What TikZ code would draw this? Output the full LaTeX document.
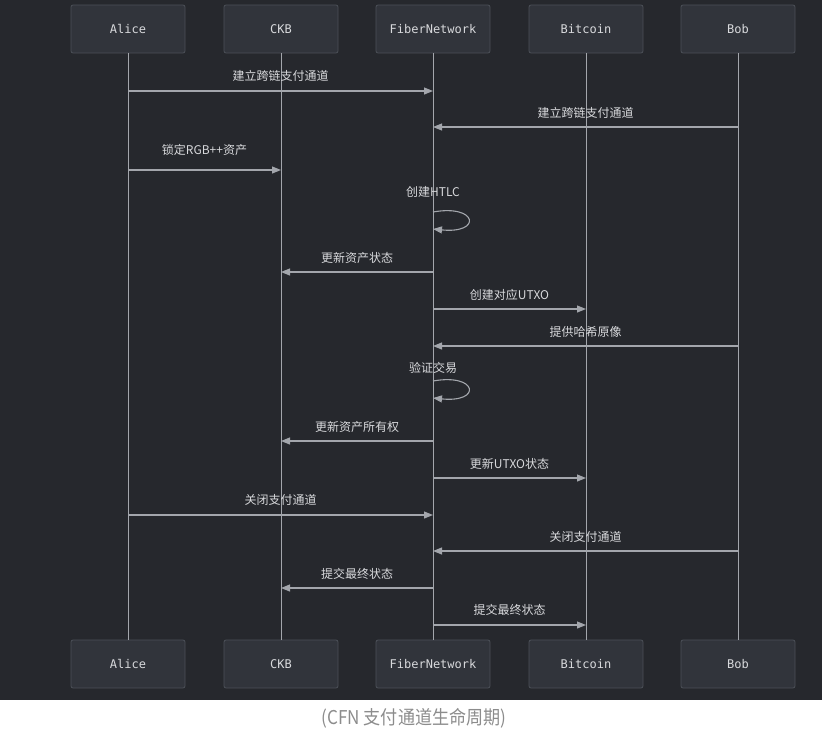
\documentclass[tikz,border=0pt]{standalone}
\usepackage{fontspec}
\setmainfont{Noto Sans CJK SC}
\newfontfamily\monof{DejaVu Sans Mono}
\usetikzlibrary{arrows.meta}
\definecolor{bgc}{HTML}{26282D}
\definecolor{boxfill}{HTML}{31343B}
\definecolor{boxline}{HTML}{4C5058}
\definecolor{linec}{HTML}{A3A6AC}
\definecolor{txtc}{HTML}{D8D9DC}
\definecolor{capc}{HTML}{8C8C8C}
\begin{document}
\begin{tikzpicture}[x=1pt,y=-1pt,
  actor/.style={draw=boxline,fill=boxfill,rounded corners=2pt,line width=0.8pt,minimum width=114pt,minimum height=48pt,inner sep=0pt,text=txtc,font=\monof\fontsize{12}{14}\selectfont},
  life/.style={draw=linec,line width=0.9pt},
  msg/.style={draw=linec,line width=1.1pt,-{Triangle[length=9pt,width=7pt]}},
  lbl/.style={text=txtc,font=\fontsize{12}{14}\selectfont,inner sep=0pt}]
\useasboundingbox (0,0) rectangle (822,734);
\fill[bgc] (0,0) rectangle (822,700);
% actors
\foreach \n/\t/\x in {A/Alice/128,C/CKB/281,F/FiberNetwork/433,B/Bitcoin/586,O/Bob/738}{
  \node[actor] (\n top) at (\x,29) {\t};
  \node[actor] (\n bot) at (\x,664) {\t};
  \draw[life] (\n top.south) -- (\n bot.north);
}
% message endpoints
\foreach \i/\y in {1/91,2/127,3/170,5/272,6/309,7/346,9/441,10/478,11/515,12/551,13/588,14/625}{
  \coordinate (A\i) at (128,\y);
  \coordinate (C\i) at (281,\y);
  \coordinate (F\i) at (433,\y);
  \coordinate (B\i) at (586,\y);
  \coordinate (O\i) at (738,\y);
}
\draw[msg] (A1) -- node[lbl,above=9pt] {建立跨链支付通道} (F1);
\draw[msg] (O2) -- node[lbl,above=8pt] {建立跨链支付通道} (F2);
\draw[msg] (A3) -- node[lbl,above=14pt] {锁定RGB++资产} (C3);
% self loop 1
\coordinate (L1s) at (433,212);
\coordinate (L1e) at (433,229);
\node[lbl] (L1t) at (433,192) {创建HTLC};
\draw[msg] (L1s) .. controls (478,204) and (482,234) .. (L1e);
\draw[msg] (F5) -- node[lbl,above=8pt] {更新资产状态} (C5);
\draw[msg] (F6) -- node[lbl,above=8pt] {创建对应UTXO} (B6);
\draw[msg] (O7) -- node[lbl,above=8pt] {提供哈希原像} (F7);
% self loop 2
\coordinate (L2s) at (433,381);
\coordinate (L2e) at (433,398);
\node[lbl] (L2t) at (433,368) {验证交易};
\draw[msg] (L2s) .. controls (478,373) and (482,403) .. (L2e);
\draw[msg] (F9) -- node[lbl,above=8pt] {更新资产所有权} (C9);
\draw[msg] (F10) -- node[lbl,above=8pt] {更新UTXO状态} (B10);
\draw[msg] (A11) -- node[lbl,above=9pt] {关闭支付通道} (F11);
\draw[msg] (O12) -- node[lbl,above=8pt] {关闭支付通道} (F12);
\draw[msg] (F13) -- node[lbl,above=8pt] {提交最终状态} (C13);
\draw[msg] (F14) -- node[lbl,above=9pt] {提交最终状态} (B14);
% caption
\node[text=capc,font=\fontsize{19}{22}\selectfont,xscale=0.9] (cap) at (414,718) {(CFN 支付通道生命周期)};
\end{tikzpicture}
\end{document}
